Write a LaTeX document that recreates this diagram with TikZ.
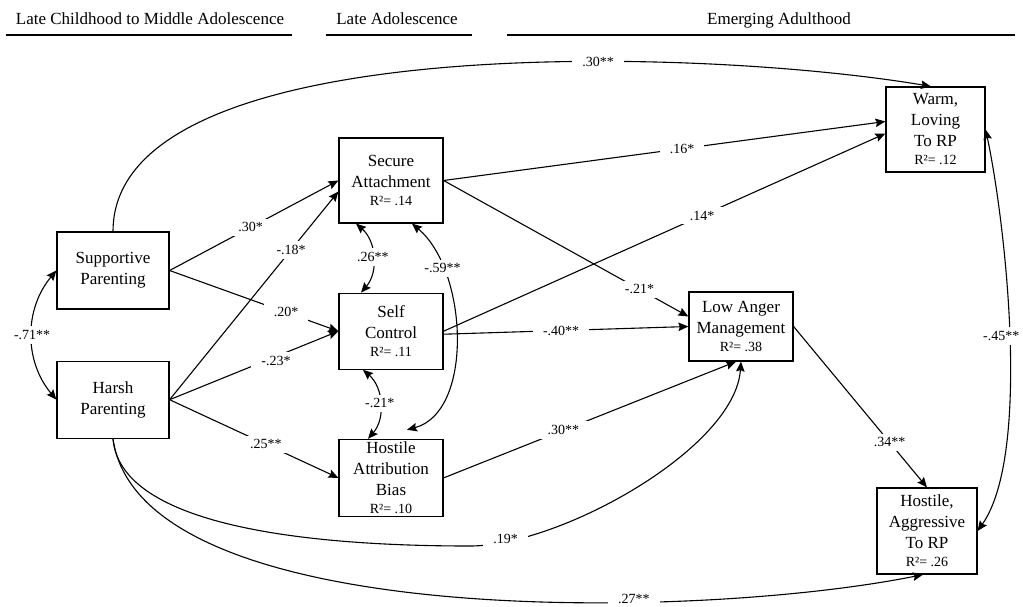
\documentclass[tikz,border=0pt]{standalone}
\usepackage{fontspec}
\setmainfont{Liberation Serif}
\usetikzlibrary{positioning, arrows.meta}
\def\rsq#1{{\fontsize{14}{16}\selectfont R²= #1}}

\begin{document}
\begin{tikzpicture}[
    x=1pt, y=1pt,
    box/.style={rectangle, draw=black, line width=1.2pt, minimum width=104pt, inner sep=1pt, align=center, font=\fontsize{17}{21}\selectfont},
    coef/.style={fill=white, inner xsep=10pt, inner ysep=4pt, font=\fontsize{14}{16}\selectfont},
    stage/.style={font=\fontsize{17}{20}\selectfont, anchor=base},
    arrow/.style={line width=1.1pt, ->, >={Stealth[length=10pt, width=8.5pt, inset=1.5pt]}},
    twoway/.style={arrow, <->},
]
\useasboundingbox (0,0) rectangle (1023,-606);

% Stages
\node (early) [stage] at (150,-24) {Late Childhood to Middle Adolescence};
\node (late) [stage] at (397,-24) {Late Adolescence};
\node (adult) [stage] at (779,-24) {Emerging Adulthood};
\draw [line width=1.2pt] (6,-35) -- (292,-35);
\draw [line width=1.2pt] (326,-35) -- (472,-35);
\draw [line width=1.2pt] (507,-35) -- (1015,-35);

% Boxes
\node (supportive) [box, minimum width=112pt, minimum height=77pt] at (113,-270.5) {Supportive\\Parenting};
\node (harsh) [box, minimum width=112pt, minimum height=77pt, below=51pt of supportive] {Harsh\\Parenting};
\node (secure) [box, minimum height=85pt] at (391,-180.5) {Secure\\Attachment\\[-3pt]\rsq{.14}};
\node (selfctrl) [box, minimum height=76pt, below=69pt of secure] {Self\\Control\\[-3pt]\rsq{.11}};
\node (hostattr) [box, minimum height=77pt, below=69pt of selfctrl] {Hostile\\Attribution\\Bias\\[-3pt]\rsq{.10}};
\node (lowanger) [box, minimum height=69pt] at (741,-326.5) {Low Anger\\Management\\[-3pt]\rsq{.38}};
\node (warm) [box, minimum width=99pt, minimum height=85pt] at (935.5,-129.5) {Warm,\\Loving\\To RP\\[-3pt]\rsq{.12}};
\node (hostrp) [box, minimum width=100pt, minimum height=86pt] at (927,-531) {Hostile,\\Aggressive\\To RP\\[-3pt]\rsq{.26}};
\coordinate (dip) at (470,-546);

% Paths
\draw [arrow] (supportive.east) -- node[coef, pos=0.48] {.30*} (secure.west);
\draw [arrow] (harsh.east) -- node[coef, pos=0.72] {-.18*} ([yshift=-11pt]secure.west);
\draw [arrow] (supportive.east) -- node[coef, pos=0.69] {.20*} (selfctrl.west);
\draw [arrow] (harsh.east) -- node[coef, pos=0.63, yshift=-4pt] {-.23*} (selfctrl.west);
\draw [arrow] (harsh.east) -- node[coef, pos=0.57] {.25**} (hostattr.west);
\draw [arrow] (secure.east) -- node[coef, pos=0.54] {.16*} ([yshift=8pt]warm.west);
\draw [arrow] (selfctrl.east) -- node[coef, pos=0.585] {.14*} ([yshift=-4pt]warm.west);
\draw [arrow] ([yshift=-3pt]selfctrl.east) -- node[coef, pos=0.48] {-.40**} (lowanger.west);
\draw [arrow] (secure.east) -- node[coef, pos=0.8] {-.21*} ([yshift=10pt]lowanger.west);
\draw [arrow] (hostattr.east) -- node[coef, pos=0.41] {.30**} ([xshift=-5pt]lowanger.south);
\draw [arrow] (lowanger.east) -- node[coef, pos=0.72] {.34**} (hostrp.north);

% Curved paths
\draw [twoway] (supportive.west) to[bend right=40] node[coef, inner xsep=2pt] {-.71**} (harsh.west);
\draw [twoway] ([xshift=-35pt]secure.south) to[bend left=45] node[coef, inner xsep=3pt] {.26**} ([xshift=-30pt]selfctrl.north);
\draw [twoway] ([xshift=-28pt]selfctrl.south) to[bend left=45] node[coef, inner xsep=3pt] {-.21*} ([xshift=-23pt]hostattr.north);
\draw [twoway] ([xshift=21pt]secure.south) .. controls +(56,-47) and +(67,18) .. node[coef, pos=0.23, inner xsep=3pt] {-.59**} ([xshift=16pt, yshift=9pt]hostattr.north);
\draw [twoway] (warm.east) to[out=-78, in=55, looseness=0.6] node[coef, xshift=-8pt, inner xsep=2pt] {-.45**} (hostrp.east);
\draw [arrow] (supportive.north) .. controls +(0,202) and +(-231,39) .. node[coef, pos=0.65] {.30**} ([xshift=-4.5pt]warm.north);
\draw [arrow] (harsh.south) .. controls +(7,-83) and +(-180,0) .. (dip) .. controls +(90,0) and +(-6,-87) .. node[coef, pos=0.12, yshift=3pt] {.19*} (lowanger.south);
\draw [arrow] (harsh.south) .. controls +(27,-193) and +(-223,-45) .. node[coef, pos=0.68, yshift=3pt, inner ysep=2pt] {.27**} ([xshift=-4pt]hostrp.south);

\end{tikzpicture}
\end{document}
